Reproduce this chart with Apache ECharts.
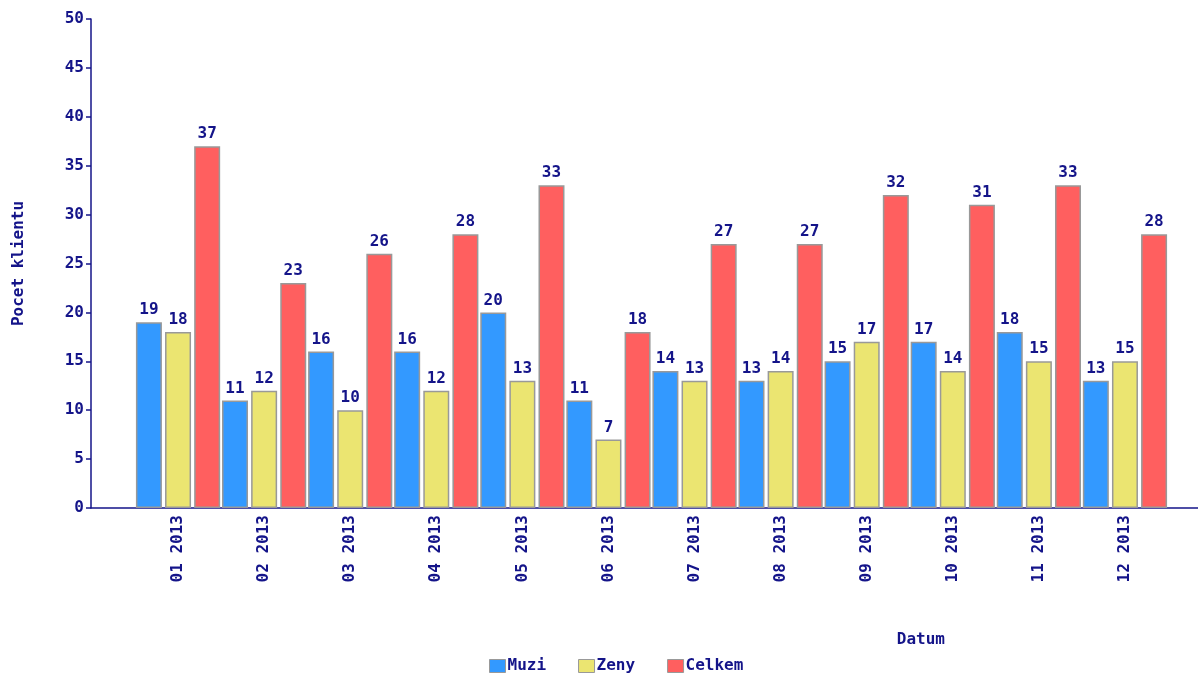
<!DOCTYPE html>
<html>
<head>
<meta charset="utf-8">
<script src="https://cdn.jsdelivr.net/npm/echarts@6/dist/echarts.min.js"></script>
<style>
html, body { margin: 0; padding: 0; background: #fff; }
#chart { width: 1198px; height: 675px; }
</style>
</head>
<body>
<div id="chart"></div>
<script>
var months = ['01 2013', '02 2013', '03 2013', '04 2013', '05 2013', '06 2013',
              '07 2013', '08 2013', '09 2013', '10 2013', '11 2013', '12 2013'];
var muzi   = [19, 11, 16, 16, 20, 11, 14, 13, 15, 17, 18, 13];
var zeny   = [18, 12, 10, 12, 13, 7, 13, 14, 17, 14, 15, 15];
var celkem = [37, 23, 26, 28, 33, 18, 27, 27, 32, 31, 33, 28];
var yTicks = [0, 50, 5]; // min, max, step

var navy = '#141489';
var font = 'DejaVu Sans Mono';
var fs = 16;

var chart = echarts.init(document.getElementById('chart'));

function barSeries(name, data, color) {
    return {
        name: name,
        type: 'bar',
        xAxisIndex: 1,
        yAxisIndex: 1,
        data: data,
        barWidth: 26,
        barGap: '12%',
        itemStyle: { color: color, borderColor: '#999', borderWidth: 1.5 },
        label: {
            show: true,
            position: 'top',
            distance: 4,
            color: navy,
            fontFamily: font,
            fontWeight: 'bold',
            fontSize: fs
        }
    };
}

var option = {
    animation: false,
    textStyle: { fontFamily: font },
    grid: [
        // axis frame: y axis at x=91, x axis line to the right edge
        { left: 91, right: 0, top: 19, bottom: 167 },
        // bars: category band narrower than the frame
        { left: 135, right: 30, top: 19, bottom: 167 }
    ],
    legend: {
        top: 653,
        left: 484,
        icon: 'rect',
        itemWidth: 16,
        itemHeight: 13,
        itemGap: 32,
        itemStyle: { borderColor: '#999', borderWidth: 1 },
        textStyle: { color: navy, fontFamily: font, fontWeight: 'bold', fontSize: fs, padding: [0, 0, 0, -3] },
        data: ['Muzi', 'Zeny', 'Celkem']
    },
    xAxis: [{
        gridIndex: 0,
        type: 'value',
        min: 0,
        max: 1,
        axisLine: { show: true, lineStyle: { color: navy, width: 1.5 } },
        axisTick: { show: false },
        axisLabel: { show: false },
        splitLine: { show: false }
    }, {
        gridIndex: 1,
        type: 'category',
        data: months,
        name: 'Datum',
        nameLocation: 'end',
        nameGap: 0,
        nameTextStyle: {
            color: navy, fontFamily: font, fontWeight: 'bold', fontSize: fs,
            align: 'right', verticalAlign: 'top', padding: [124, 223, 0, 0]
        },
        axisLine: { show: false },
        axisTick: { show: false },
        axisLabel: {
            rotate: 90,
            margin: 7,
            interval: 0,
            color: navy,
            fontFamily: font,
            fontWeight: 'bold',
            fontSize: fs
        }
    }],
    yAxis: [{
        gridIndex: 0,
        type: 'value',
        min: yTicks[0],
        max: yTicks[1],
        interval: yTicks[2],
        name: 'Pocet klientu',
        nameLocation: 'middle',
        nameGap: 64,
        nameRotate: 90,
        nameTextStyle: { color: navy, fontFamily: font, fontWeight: 'bold', fontSize: fs },
        axisLine: { show: true, lineStyle: { color: navy, width: 1.5 } },
        axisTick: { show: true, length: 5, lineStyle: { color: navy, width: 1.5 } },
        axisLabel: { margin: 7, color: navy, fontFamily: font, fontWeight: 'bold', fontSize: fs },
        splitLine: { show: false }
    }, {
        gridIndex: 1,
        type: 'value',
        min: yTicks[0],
        max: yTicks[1],
        interval: yTicks[2],
        show: false
    }],
    series: [
        barSeries('Muzi', muzi, '#3399ff'),
        barSeries('Zeny', zeny, '#ebe571'),
        barSeries('Celkem', celkem, '#ff5f5f')
    ]
};

chart.setOption(option);
</script>
</body>
</html>
